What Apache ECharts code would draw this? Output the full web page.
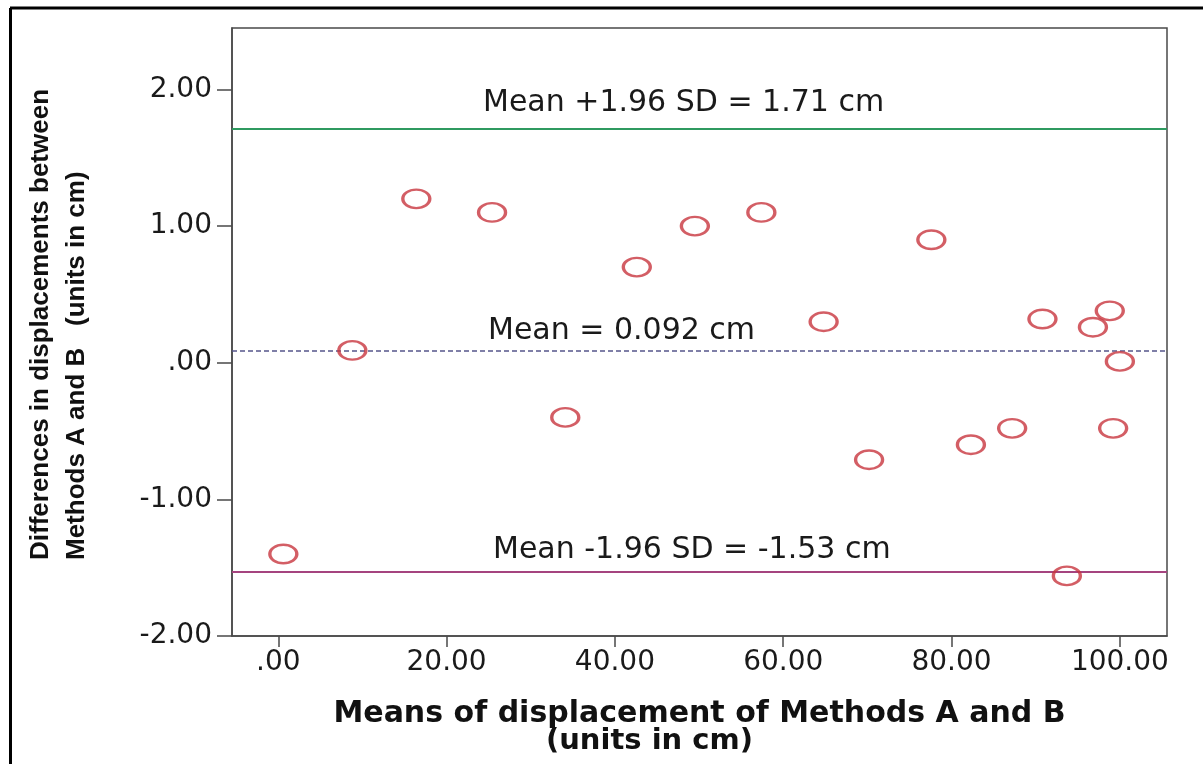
<!DOCTYPE html>
<html>
<head>
<meta charset="utf-8">
<script src="https://cdn.jsdelivr.net/npm/echarts@6.0.0/dist/echarts.min.js"></script>
<style>
  html, body { margin: 0; padding: 0; background: #ffffff; }
  #chart { width: 1203px; height: 764px; }
</style>
</head>
<body>
<div id="chart"></div>
<script>
// ---- data ----
const meansAB = [0.6, 8.8, 16.4, 25.4, 34.1, 42.6, 49.5, 57.4, 64.8, 70.2, 77.6, 82.3, 87.2, 90.8, 93.7, 96.8, 98.8, 99.2, 100.0];
const diffsAB = [-1.40, 0.09, 1.20, 1.10, -0.40, 0.70, 1.00, 1.10, 0.30, -0.71, 0.90, -0.60, -0.48, 0.32, -1.56, 0.26, 0.38, -0.48, 0.01];

const meanDiff = 0.092;
const upperLoA = 1.71;
const lowerLoA = -1.53;
const refLabels = ['Mean +1.96 SD = 1.71 cm', 'Mean = 0.092 cm', 'Mean -1.96 SD = -1.53 cm'];

const xTicks = [0, 20, 40, 60, 80, 100];
const yTicks = [-2, -1, 0, 1, 2];

const xTitle = 'Means of displacement of Methods A and B';
const xTitle2 = '(units in cm)';
const yTitle = 'Differences in displacements between\nMethods A and B   (units in cm)';

// ---- helpers ----
function fmt(v) {
  let s = Math.abs(v).toFixed(2);
  if (Math.abs(v) < 1) s = s.replace(/^0/, '');
  return (v < 0 ? '-' : '') + s;
}

const points = meansAB.map((x, i) => [x, diffsAB[i]]);
const axisColor = '#4a4a4a';
const tickFont = { fontFamily: 'DejaVu Sans', fontSize: 28, color: '#1a1a1a' };

const chart = echarts.init(document.getElementById('chart'), null, { renderer: 'canvas' });

chart.setOption({
  animation: false,
  backgroundColor: '#ffffff',
  grid: {
    left: 232, right: 36, top: 28, bottom: 128,
    show: true, borderColor: axisColor, borderWidth: 1.5, backgroundColor: 'transparent'
  },
  xAxis: {
    type: 'value',
    min: -5.5, max: 105.6,
    axisLine: { show: true, onZero: false, lineStyle: { color: axisColor, width: 1.5 } },
    axisTick: { show: true, length: 11, lineStyle: { color: axisColor, width: 1.5 }, customValues: xTicks },
    axisLabel: Object.assign({ margin: 13, formatter: fmt, customValues: xTicks }, tickFont),
    splitLine: { show: false },
    name: '{a|' + xTitle + '}\n{b|' + xTitle2 + '}',
    nameLocation: 'middle',
    nameGap: 65,
    nameTextStyle: {
      rich: {
        a: { fontFamily: 'DejaVu Sans', fontWeight: 'bold', fontSize: 30, lineHeight: 27, color: '#111' },
        b: { fontFamily: 'DejaVu Sans', fontWeight: 'bold', fontSize: 29, lineHeight: 27, color: '#111', padding: [0, 100, 0, 0] }
      }
    }
  },
  yAxis: {
    type: 'value',
    min: -2, max: 2.45,
    axisLine: { show: true, onZero: false, lineStyle: { color: axisColor, width: 1.5 } },
    axisTick: { show: true, length: 15, lineStyle: { color: axisColor, width: 1.5 }, customValues: yTicks },
    axisLabel: Object.assign({ margin: 20, formatter: fmt, customValues: yTicks }, tickFont),
    splitLine: { show: false }
  },
  graphic: [
    { type: 'line', silent: true, shape: { x1: 10, y1: 8, x2: 1203, y2: 8 }, style: { stroke: '#000', lineWidth: 3 } },
    { type: 'line', silent: true, shape: { x1: 10.5, y1: 8, x2: 10.5, y2: 764 }, style: { stroke: '#000', lineWidth: 3 } },
    {
      type: 'text', silent: true, x: 59, y: 560, rotation: Math.PI / 2,
      style: {
        text: yTitle,
        font: 'bold 26px "Liberation Sans", Arial, sans-serif',
        fill: '#111', textAlign: 'left', textVerticalAlign: 'middle', lineHeight: 36
      }
    }
  ],
  series: [{
    type: 'scatter',
    data: points,
    symbol: 'path://M0,50A50,50,0,1,1,100,50A50,50,0,1,1,0,50Z',
    symbolSize: [27, 18.5],
    itemStyle: { color: 'transparent', borderColor: '#c8363f', borderWidth: 2.8 },
    z: 5,
    markLine: {
      silent: true,
      symbol: 'none',
      animation: false,
      data: [
        {
          yAxis: upperLoA,
          lineStyle: { color: '#2f9a60', width: 2, type: 'solid' },
          label: { show: true, position: 'insideStartTop', distance: [251, 10.5], formatter: refLabels[0],
                   fontFamily: 'DejaVu Sans', fontSize: 30, color: '#1a1a1a' }
        },
        {
          yAxis: meanDiff,
          lineStyle: { color: '#55558a', width: 1.5, type: [5, 3] },
          label: { show: true, position: 'insideStartTop', distance: [256, 4], formatter: refLabels[1],
                   fontFamily: 'DejaVu Sans', fontSize: 30, color: '#1a1a1a' }
        },
        {
          yAxis: lowerLoA,
          lineStyle: { color: '#a5447f', width: 2, type: 'solid' },
          label: { show: true, position: 'insideStartTop', distance: [261, 6.5], formatter: refLabels[2],
                   fontFamily: 'DejaVu Sans', fontSize: 30, color: '#1a1a1a' }
        }
      ]
    }
  }]
});
</script>
</body>
</html>
